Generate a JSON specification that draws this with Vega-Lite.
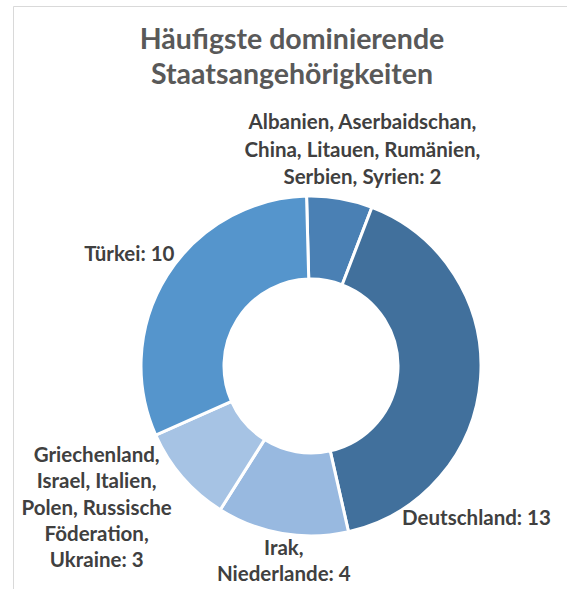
{
  "$schema": "https://vega.github.io/schema/vega-lite/v6.json",
  "width": 596,
  "height": 720,
  "autosize": {"type": "none"},
  "padding": {"left": 13, "top": 6, "right": 0, "bottom": 0},
  "background": "white",
  "view": {"stroke": "#d9d9d9", "strokeWidth": 1},
  "title": {
    "text": ["Häufigste dominierende", "Staatsangehörigkeiten"],
    "font": "Lato",
    "fontSize": 28.5,
    "fontWeight": "bold",
    "color": "#595959",
    "anchor": "middle",
    "baseline": "top",
    "offset": 0,
    "dx": -19,
    "dy": 83,
    "lineHeight": 35
  },
  "data": {
    "values": [
      {"cat": "Albanien", "i": 1, "n": 2, "label": "Albanien, Aserbaidschan,\nChina, Litauen, Rumänien,\nSerbien, Syrien: 2"},
      {"cat": "Deutschland", "i": 2, "n": 13, "label": "Deutschland: 13"},
      {"cat": "Irak", "i": 3, "n": 4, "label": "Irak,\nNiederlande: 4"},
      {"cat": "Griechenland", "i": 4, "n": 3, "label": "Griechenland,\nIsrael, Italien,\nPolen, Russische\nFöderation,\nUkraine: 3"},
      {"cat": "Türkei", "i": 5, "n": 10, "label": "Türkei: 10"}
    ]
  },
  "encoding": {
    "theta": {"field": "n", "type": "quantitative", "stack": true, "scale": {"range": [-0.026, 6.257]}},
    "order": {"field": "i", "type": "quantitative"},
    "color": {
      "field": "cat",
      "type": "nominal",
      "scale": {
        "domain": ["Albanien", "Deutschland", "Irak", "Griechenland", "Türkei"],
        "range": ["#4a80b4", "#41709c", "#98b9e0", "#a6c3e4", "#5595cc"]
      },
      "legend": null
    }
  },
  "layer": [
    {"mark": {"type": "arc", "innerRadius": 87, "outerRadius": 170, "stroke": "white", "strokeWidth": 3}},
    {
      "mark": {"type": "text", "radius": 215, "dx": 15, "dy": -31, "font": "Lato", "fontSize": 20.5, "fontWeight": "bold", "lineBreak": "\n", "lineHeight": 27.5, "align": "center", "baseline": "middle"},
      "encoding": {
        "text": {"condition": {"test": "datum.cat === 'Albanien'", "field": "label"}, "value": ""},
        "color": {"value": "#404040"},
        "detail": {"field": "cat", "type": "nominal"}
      }
    },
    {
      "mark": {"type": "text", "radius": 200, "dx": -34, "dy": 139, "font": "Lato", "fontSize": 20.5, "fontWeight": "bold", "lineBreak": "\n", "lineHeight": 27, "align": "center", "baseline": "middle"},
      "encoding": {
        "text": {"condition": {"test": "datum.cat === 'Deutschland'", "field": "label"}, "value": ""},
        "color": {"value": "#404040"},
        "detail": {"field": "cat", "type": "nominal"}
      }
    },
    {
      "mark": {"type": "text", "radius": 190, "dx": 5, "dy": -4, "font": "Lato", "fontSize": 20.5, "fontWeight": "bold", "lineBreak": "\n", "lineHeight": 26, "align": "center", "baseline": "middle"},
      "encoding": {
        "text": {"condition": {"test": "datum.cat === 'Irak'", "field": "label"}, "value": ""},
        "color": {"value": "#404040"},
        "detail": {"field": "cat", "type": "nominal"}
      }
    },
    {
      "mark": {"type": "text", "radius": 220, "dx": -48, "dy": -54, "font": "Lato", "fontSize": 20.5, "fontWeight": "bold", "lineBreak": "\n", "lineHeight": 26.3, "align": "center", "baseline": "middle"},
      "encoding": {
        "text": {"condition": {"test": "datum.cat === 'Griechenland'", "field": "label"}, "value": ""},
        "color": {"value": "#404040"},
        "detail": {"field": "cat", "type": "nominal"}
      }
    },
    {
      "mark": {"type": "text", "radius": 210, "dx": -4, "dy": 1, "font": "Lato", "fontSize": 20.5, "fontWeight": "bold", "lineBreak": "\n", "lineHeight": 27, "align": "center", "baseline": "middle"},
      "encoding": {
        "text": {"condition": {"test": "datum.cat === 'Türkei'", "field": "label"}, "value": ""},
        "color": {"value": "#404040"},
        "detail": {"field": "cat", "type": "nominal"}
      }
    }
  ]
}
